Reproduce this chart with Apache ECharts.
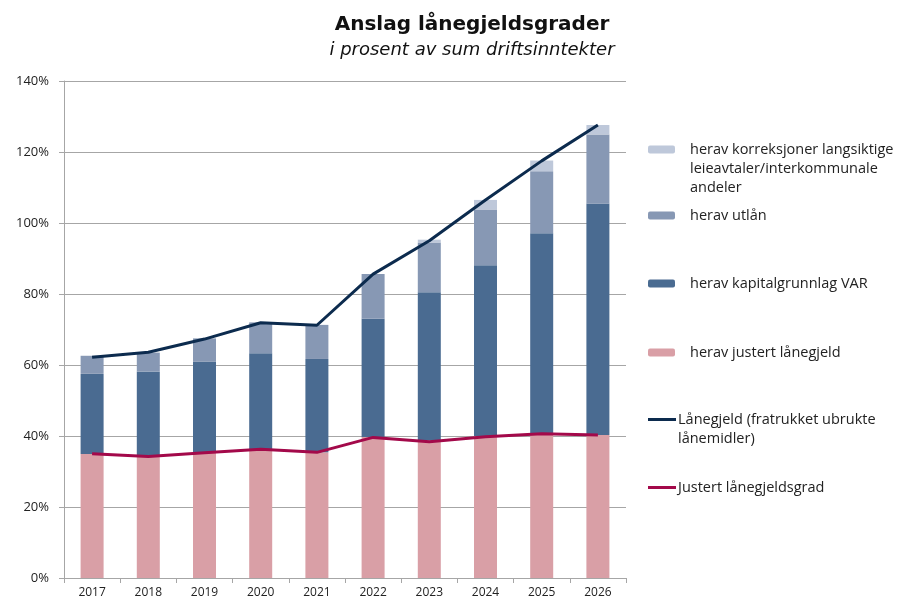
<!DOCTYPE html>
<html>
<head>
<meta charset="utf-8">
<script src="https://cdn.jsdelivr.net/npm/echarts@6/dist/echarts.min.js"></script>
<style>
  html, body { margin: 0; padding: 0; background: #fff; }
  #chart { width: 923px; height: 603px; }
</style>
</head>
<body>
<div id="chart"></div>
<script>
const years = ['2017', '2018', '2019', '2020', '2021', '2022', '2023', '2024', '2025', '2026']
const justert = [34.9, 34.3, 35.3, 36.3, 35.4, 39.7, 38.7, 40.0, 40.7, 40.3]
const kapitalVar = [22.6, 23.9, 25.6, 27.0, 26.3, 33.3, 41.8, 48.1, 56.4, 65.2]
const utlan = [5.1, 5.3, 6.6, 8.7, 9.6, 12.6, 14.0, 15.7, 17.5, 19.4]
const korreksjon = [0, 0, 0, 0, 0, 0, 0.8, 2.7, 3.0, 2.7]
const lanegjeld = [62.2, 63.6, 67.3, 71.9, 71.2, 85.6, 95.0, 106.5, 117.5, 127.6]
const justertGrad = [35.0, 34.2, 35.3, 36.3, 35.4, 39.6, 38.4, 39.8, 40.6, 40.3]
const yTicks = [0, 20, 40, 60, 80, 100, 120, 140]

const names = [
  'herav korreksjoner langsiktige leieavtaler/interkommunale andeler',
  'herav utlån',
  'herav kapitalgrunnlag VAR',
  'herav justert lånegjeld',
  'Lånegjeld (fratrukket ubrukte lånemidler)',
  'Justert lånegjeldsgrad'
]

const font = '"Open Sans", sans-serif'
const chart = echarts.init(document.getElementById('chart'))

// one legend per item so the vertical spacing can follow the original;
// blank lines in front keep the icon level with the first text line
function legendItem(name, top, lines, isBar) {
  const text = new Array(lines.length).join('\n') + lines.join('\n')
  return {
    data: [isBar ? name : { name: name, icon: 'rect' }],
    left: 648,
    top: top,
    padding: 0,
    itemWidth: isBar ? 27 : 28,
    itemHeight: isBar ? 8 : 3,
    formatter: () => text,
    textStyle: {
      fontFamily: font,
      fontSize: 14.5,
      color: '#222',
      lineHeight: 19,
      padding: [0, 0, 0, isBar ? 10 : -3]
    }
  }
}

const option = {
  animation: false,
  title: {
    text: 'Anslag lånegjeldsgrader',
    subtext: 'i prosent av sum driftsinntekter',
    left: 467,
    textAlign: 'center',
    top: 8,
    itemGap: 2,
    textStyle: { fontFamily: '"DejaVu Sans", sans-serif', fontSize: 20, lineHeight: 24, fontWeight: 'bold', color: '#111' },
    subtextStyle: { fontFamily: '"DejaVu Sans", sans-serif', fontSize: 18, lineHeight: 22, fontStyle: 'italic', color: '#111' }
  },
  legend: [
    legendItem(names[0], 102, ['herav korreksjoner langsiktige', 'leieavtaler/interkommunale', 'andeler'], true),
    legendItem(names[1], 206, ['herav utlån'], true),
    legendItem(names[2], 274, ['herav kapitalgrunnlag VAR'], true),
    legendItem(names[3], 343, ['herav justert lånegjeld'], true),
    legendItem(names[4], 391, ['Lånegjeld (fratrukket ubrukte', 'lånemidler)'], false),
    legendItem(names[5], 478, ['Justert lånegjeldsgrad'], false)
  ],
  grid: { left: 64, right: 297, top: 81, bottom: 25 },
  xAxis: {
    type: 'category',
    data: years,
    axisLine: { lineStyle: { color: '#a6a6a6', width: 1 } },
    axisTick: { show: true, length: 5, lineStyle: { color: '#a6a6a6' } },
    axisLabel: { fontFamily: font, fontSize: 12, color: '#222', margin: 9 }
  },
  yAxis: {
    type: 'value',
    min: yTicks[0],
    max: yTicks[yTicks.length - 1],
    interval: 20,
    axisLine: { show: true, lineStyle: { color: '#a6a6a6', width: 1 } },
    axisTick: { show: true, length: 5, lineStyle: { color: '#a6a6a6' } },
    axisLabel: { fontFamily: font, fontSize: 13, color: '#222', margin: 15, formatter: '{value}%' },
    splitLine: { lineStyle: { color: '#a6a6a6', width: 1 } }
  },
  series: [
    { name: names[3], type: 'bar', stack: 'a', barWidth: 23, data: justert, itemStyle: { color: '#d99fa6' } },
    { name: names[2], type: 'bar', stack: 'a', barWidth: 23, data: kapitalVar, itemStyle: { color: '#4a6b91' } },
    { name: names[1], type: 'bar', stack: 'a', barWidth: 23, data: utlan, itemStyle: { color: '#8798b4' } },
    { name: names[0], type: 'bar', stack: 'a', barWidth: 23, data: korreksjon, itemStyle: { color: '#bec8da' } },
    {
      name: names[4], type: 'line', symbol: 'none', data: lanegjeld,
      lineStyle: { color: '#0c2b4e', width: 3 }, itemStyle: { color: '#0c2b4e' }
    },
    {
      name: names[5], type: 'line', symbol: 'none', data: justertGrad,
      lineStyle: { color: '#a3094a', width: 3 }, itemStyle: { color: '#a3094a' }
    }
  ]
}

chart.setOption(option)
</script>
</body>
</html>
